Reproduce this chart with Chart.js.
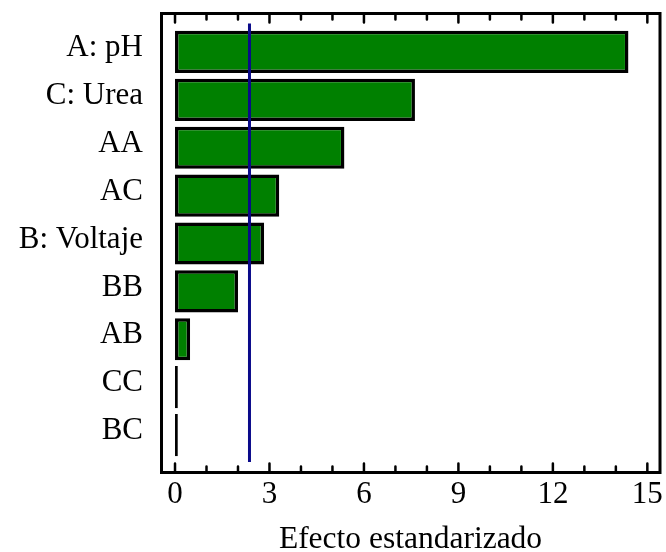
<!DOCTYPE html>
<html>
<head>
<meta charset="utf-8">
<script src="https://cdn.jsdelivr.net/npm/chart.js@4/dist/chart.umd.min.js"></script>
<style>
  html, body { margin: 0; padding: 0; background: #ffffff; }
  #wrap { width: 666px; height: 552px; }
</style>
</head>
<body>
<div id="wrap"><canvas id="pareto" width="666" height="552"></canvas></div>
<script>
// Standardized effects (Pareto chart), sorted from largest to smallest
const effectLabels = ['A: pH', 'C: Urea', 'AA', 'AC', 'B: Voltaje', 'BB', 'AB', 'CC', 'BC'];
const effectValues = [14.4, 7.62, 5.38, 3.31, 2.83, 2.0, 0.48, 0.09, 0.09];
const axisTickValues = [0, 3, 6, 9, 12, 15];
const minorTickStep = 1;
const criticalValue = 2.365;   // significance reference line
const axisMin = -0.445;
const axisMax = 15.402;

const SERIF = "'Liberation Serif', 'Times New Roman', serif";

// Boxed frame with inward tick marks on top and bottom, plus the reference line
const framePlugin = {
  id: 'frame',
  afterDatasetsDraw(chart) {
    const { ctx, chartArea } = chart;
    const xs = chart.scales.x;
    const left = chartArea.left + 0.5;
    const right = chartArea.right;
    const top = chartArea.top - 14.5;
    const bottom = chartArea.bottom + 13.5;

    ctx.save();
    // reference line
    const cx = xs.getPixelForValue(criticalValue);
    ctx.strokeStyle = '#0a0a8a';
    ctx.lineWidth = 3;
    ctx.beginPath();
    ctx.moveTo(cx, top + 10);
    ctx.lineTo(cx, bottom - 10.5);
    ctx.stroke();

    // tick marks
    ctx.strokeStyle = '#000';
    ctx.lineWidth = 2.5;
    ctx.lineCap = 'round';
    for (let v = 0; v <= axisTickValues[axisTickValues.length - 1] + 1e-9; v += minorTickStep) {
      const px = xs.getPixelForValue(v);
      const len = axisTickValues.includes(v) ? 9 : 6;
      ctx.beginPath();
      ctx.moveTo(px, bottom);
      ctx.lineTo(px, bottom - len);
      ctx.moveTo(px, top);
      ctx.lineTo(px, top + len);
      ctx.stroke();
    }

    // frame
    ctx.lineCap = 'butt';
    ctx.lineWidth = 3;
    ctx.strokeRect(left, top, right - left, bottom - top);
    ctx.restore();
  }
};

new Chart(document.getElementById('pareto'), {
  type: 'bar',
  data: {
    labels: effectLabels,
    datasets: [{
      data: effectValues,
      backgroundColor: '#008000',
      borderColor: '#000000',
      borderWidth: 3.5,
      borderSkipped: false,
      barPercentage: 0.88,
      categoryPercentage: 1.0
    }]
  },
  options: {
    indexAxis: 'y',
    responsive: false,
    animation: false,
    devicePixelRatio: 1,
    layout: {
      autoPadding: false,
      padding: { top: 28, right: 6, bottom: 0, left: 0 }
    },
    plugins: {
      legend: { display: false },
      tooltip: { enabled: false }
    },
    scales: {
      x: {
        type: 'linear',
        position: 'bottom',
        min: axisMin,
        max: axisMax,
        afterBuildTicks(scale) {
          scale.ticks = axisTickValues.map(v => ({ value: v }));
        },
        afterFit(scale) {
          scale.height = 93;
          scale.paddingLeft = 0;
          scale.paddingRight = 0;
        },
        grid: { display: false, drawTicks: false, tickLength: 0 },
        border: { display: false },
        ticks: {
          color: '#000',
          padding: 17,
          maxRotation: 0,
          autoSkip: false,
          font: { family: SERIF, size: 31 }
        },
        title: {
          display: true,
          text: 'Efecto estandarizado',
          color: '#000',
          padding: { top: 0, bottom: 0 },
          font: { family: SERIF, size: 31.5, lineHeight: 0.75 }
        }
      },
      y: {
        type: 'category',
        position: 'left',
        afterFit(scale) {
          scale.width = 161;
          scale.paddingTop = 0;
          scale.paddingBottom = 0;
        },
        grid: { display: false, drawTicks: false, tickLength: 0 },
        border: { display: false },
        ticks: {
          color: '#000',
          padding: 18,
          labelOffset: -4,
          autoSkip: false,
          font: { family: SERIF, size: 31 }
        }
      }
    }
  },
  plugins: [framePlugin]
});
</script>
</body>
</html>
